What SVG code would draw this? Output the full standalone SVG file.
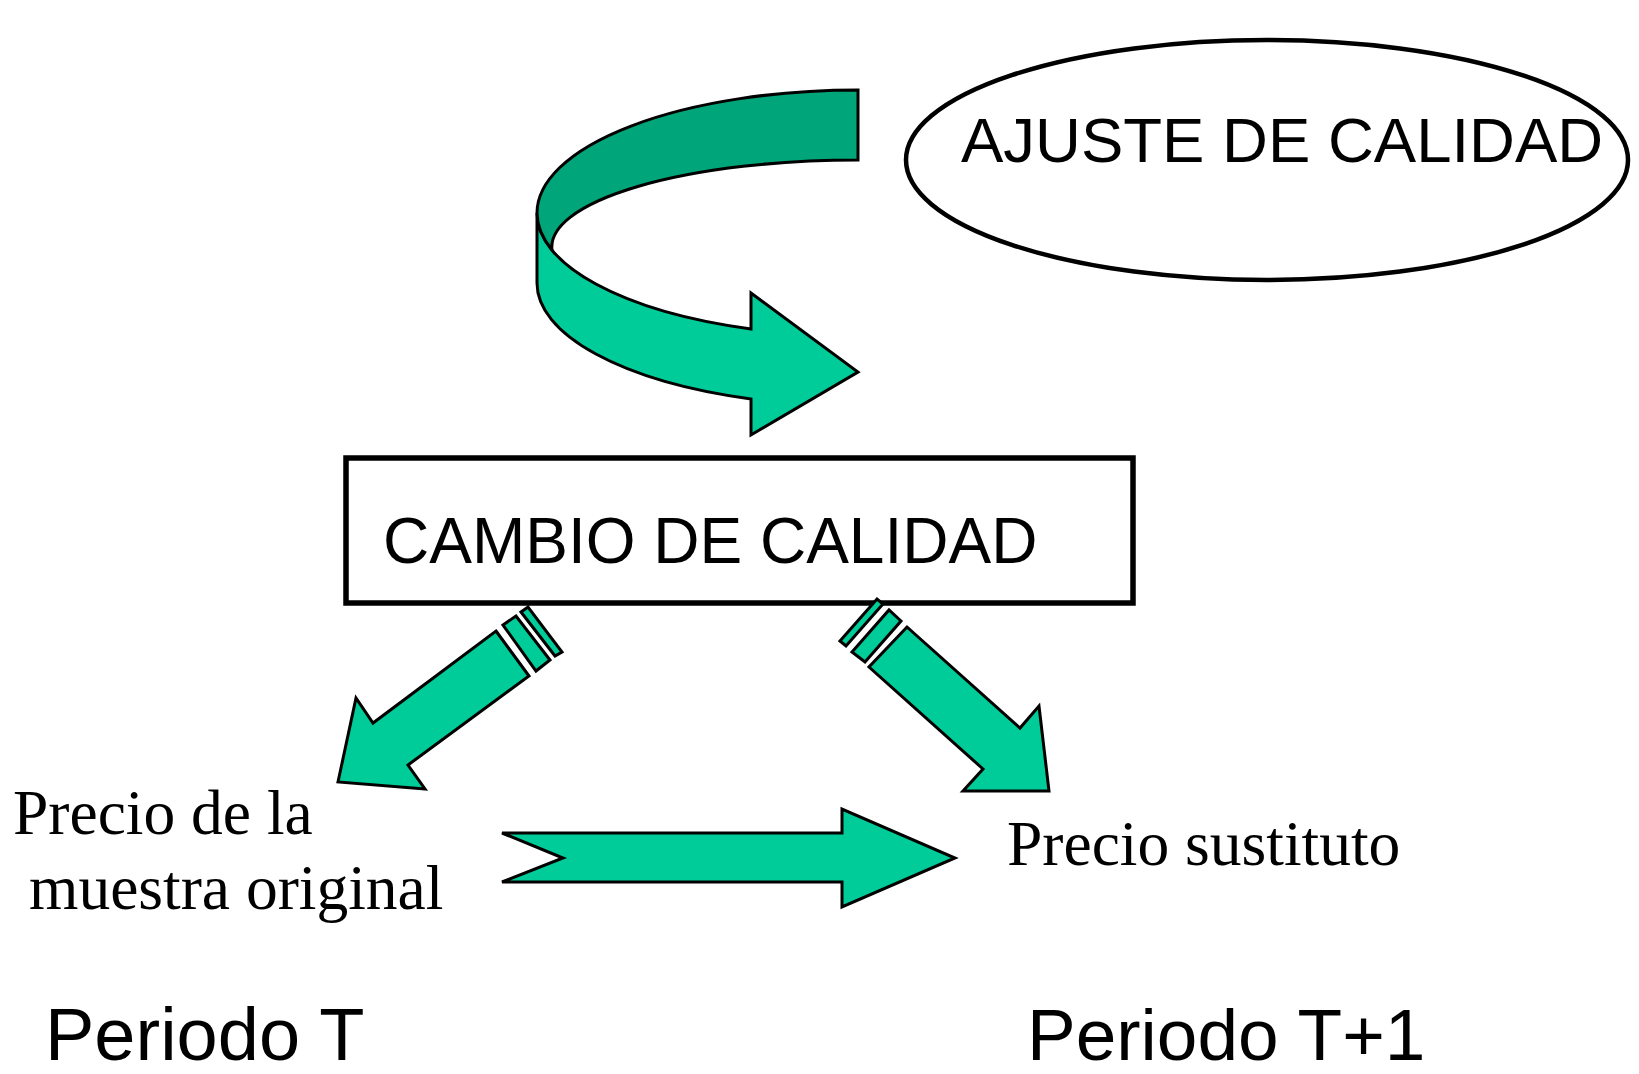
<svg xmlns="http://www.w3.org/2000/svg" width="1639" height="1074" viewBox="0 0 1639 1074">
<style>
.arrow{fill:#00CC99;stroke:#000;stroke-width:3;stroke-linejoin:miter}
.dark{fill:#00A57A;stroke:#000;stroke-width:3}
.sans{font-family:"Liberation Sans",Arial,sans-serif;fill:#000}
.serif{font-family:"Liberation Serif","Times New Roman",serif;fill:#000}
</style>
<rect width="1639" height="1074" fill="#fff"/>
<g id="ajuste">
<ellipse cx="1267" cy="160" rx="361" ry="120" fill="#fff" stroke="#000" stroke-width="4.5"/>
<text class="sans" x="961" y="162" font-size="63.5">AJUSTE DE CALIDAD</text>
</g>
<g id="cambio">
<rect x="346" y="458" width="787" height="145" fill="#fff" stroke="#000" stroke-width="5.5"/>
<text class="sans" x="383" y="563" font-size="64">CAMBIO DE CALIDAD</text>
</g>
<g id="precio-original">
<text class="serif" x="13" y="834" font-size="63.5">Precio de la</text>
<text class="serif" x="29" y="909" font-size="63.5">muestra original</text>
</g>
<g id="precio-sustituto">
<text class="serif" x="1007" y="865" font-size="63.5">Precio sustituto</text>
</g>
<g id="periodo-t">
<text class="sans" x="45" y="1060" font-size="74">Periodo T</text>
</g>
<g id="periodo-t1">
<text class="sans" x="1027" y="1060" font-size="73">Periodo T+1</text>
</g>
<g id="connectors">
<path class="arrow" d="M537,213 L537,283 A321,123 0 0 0 751,399 L751,435 L858,372 L751,293 L751,329 A321,123 0 0 1 537,213 Z"/>
<path class="dark" d="M858,90 A321,123 0 0 0 537,213 A321,123 0 0 0 552,250 A306,87 0 0 1 858,160 Z"/>
<path class="arrow" d="M496,631 L529,676 L408,765 L425,789 L338,782 L356,698 L373,723 Z"/>
<path class="arrow" d="M503,625 L516,616 L550,660 L536,671 Z"/>
<path class="arrow" d="M521,612 L528,607 L562,652 L555,656 Z"/>
<path class="arrow" d="M907,627 L1020,728 L1039,706 L1049,791 L963,791 L983,769 L869,667 Z"/>
<path class="arrow" d="M852,652 L889,610 L901,621 L865,662 Z"/>
<path class="arrow" d="M840,641 L877,599 L883,604 L846,646 Z"/>
<path class="arrow" d="M502,833 L842,833 L842,809 L955,858 L842,907 L842,882 L502,882 L563,858 Z"/>
</g>
</svg>
